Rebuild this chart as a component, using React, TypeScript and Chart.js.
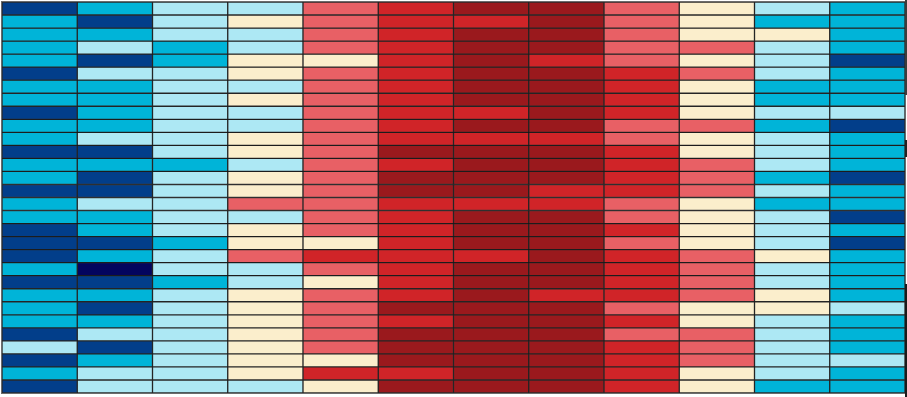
import React, { useEffect, useRef } from "react";
import { Chart, registerables } from "chart.js";

Chart.register(...registerables);

// Column categories (12 columns)
const columns = ["C1", "C2", "C3", "C4", "C5", "C6", "C7", "C8", "C9", "C10", "C11", "C12"];

// Colour levels: 0 = lowest (navy) ... 7 = highest (dark red)
const palette = [
  "#03045e",
  "#023e8a",
  "#00b4d8",
  "#ade8f4",
  "#fbeecc",
  "#e86065",
  "#d02428",
  "#9a191d",
];

// Level of each cell, one array per column, top row first (30 rows)
const col01 = [1, 2, 2, 2, 2, 1, 2, 2, 1, 2, 2, 1, 2, 2, 1, 2, 2, 1, 1, 1, 2, 1, 2, 2, 2, 1, 3, 1, 2, 1];
const col02 = [2, 1, 2, 3, 1, 3, 2, 2, 2, 2, 3, 1, 2, 1, 1, 3, 2, 2, 1, 2, 0, 1, 2, 1, 2, 3, 1, 2, 3, 3];
const col03 = [3, 3, 3, 2, 2, 3, 3, 3, 3, 3, 3, 3, 2, 3, 3, 3, 3, 3, 2, 3, 3, 2, 3, 3, 3, 3, 3, 3, 3, 3];
const col04 = [3, 4, 3, 3, 4, 4, 3, 4, 3, 3, 4, 4, 3, 4, 4, 5, 3, 4, 4, 5, 3, 3, 4, 4, 4, 4, 4, 4, 4, 3];
const col05 = [5, 5, 5, 5, 4, 5, 5, 5, 5, 5, 5, 5, 5, 5, 5, 5, 5, 5, 4, 6, 5, 4, 5, 5, 5, 5, 5, 4, 6, 4];
const col06 = [6, 6, 6, 6, 6, 6, 6, 6, 6, 6, 6, 7, 6, 7, 7, 6, 6, 6, 6, 6, 6, 6, 6, 7, 6, 7, 7, 7, 6, 7];
const col07 = [7, 6, 7, 7, 7, 7, 7, 7, 6, 7, 6, 7, 7, 7, 7, 6, 7, 7, 7, 6, 7, 7, 7, 7, 7, 7, 7, 7, 7, 7];
const col08 = [7, 7, 7, 7, 6, 7, 7, 7, 7, 7, 6, 7, 7, 7, 6, 6, 7, 7, 7, 7, 7, 7, 6, 7, 7, 7, 7, 7, 7, 7];
const col09 = [5, 5, 5, 5, 5, 6, 6, 6, 6, 5, 5, 6, 6, 6, 6, 5, 5, 6, 5, 6, 6, 6, 6, 5, 6, 5, 6, 6, 6, 6];
const col10 = [4, 4, 4, 5, 4, 5, 4, 4, 4, 5, 4, 4, 5, 5, 5, 4, 4, 4, 4, 5, 5, 5, 5, 4, 4, 5, 5, 5, 4, 4];
const col11 = [3, 2, 4, 3, 3, 3, 2, 2, 3, 2, 3, 3, 3, 2, 3, 2, 3, 3, 3, 4, 3, 3, 4, 4, 3, 3, 3, 3, 3, 2];
const col12 = [2, 2, 2, 2, 1, 2, 2, 2, 3, 1, 2, 2, 2, 1, 2, 2, 1, 2, 1, 2, 2, 2, 2, 3, 2, 2, 2, 3, 2, 2];

const seriesByColumn = [col01, col02, col03, col04, col05, col06, col07, col08, col09, col10, col11, col12];

export default function App() {
  const ref = useRef<HTMLCanvasElement | null>(null);

  useEffect(() => {
    document.body.style.margin = "0";
    document.body.style.background = "#ffffff";
    const rowCount = col01.length;
    const datasets = Array.from({ length: rowCount }, (_, r) => ({
      label: "row " + (r + 1),
      data: seriesByColumn.map(() => [r, r + 1] as [number, number]),
      backgroundColor: seriesByColumn.map((c) => palette[c[r]]),
      borderColor: "rgba(0,0,0,0.6)",
      borderWidth: 1,
      borderSkipped: false as const,
      grouped: false,
      categoryPercentage: 1,
      barPercentage: 1,
    }));
    const chart = new Chart(ref.current as HTMLCanvasElement, {
      type: "bar",
      data: { labels: columns, datasets: datasets as any },
      options: {
        animation: false,
        responsive: false,
        maintainAspectRatio: false,
        layout: { padding: 0 },
        plugins: { legend: { display: false }, tooltip: { enabled: false } },
        scales: {
          x: { display: false, offset: true },
          y: { display: false, min: 0, max: rowCount, reverse: true },
        },
      },
    });
    return () => chart.destroy();
  }, []);

  return (
    <div style={{ position: "fixed", left: 0, top: 0, width: 907, height: 397, background: "#fff", overflow: "hidden" }}>
      <div style={{ position: "absolute", left: 1, top: 1, width: 905, height: 393, background: "#6b6b6b" }} />
      <canvas
        ref={ref}
        width={903}
        height={391}
        style={{ position: "absolute", left: 2, top: 2, width: 903, height: 391 }}
      />
      <div style={{ position: "absolute", left: 905, top: 0, width: 2, height: 95, background: "#3c3c3c" }} />
      <div style={{ position: "absolute", left: 905, top: 140, width: 2, height: 17, background: "#222" }} />
      <div style={{ position: "absolute", left: 905, top: 284, width: 2, height: 113, background: "#1a1a1a" }} />
    </div>
  );
}
